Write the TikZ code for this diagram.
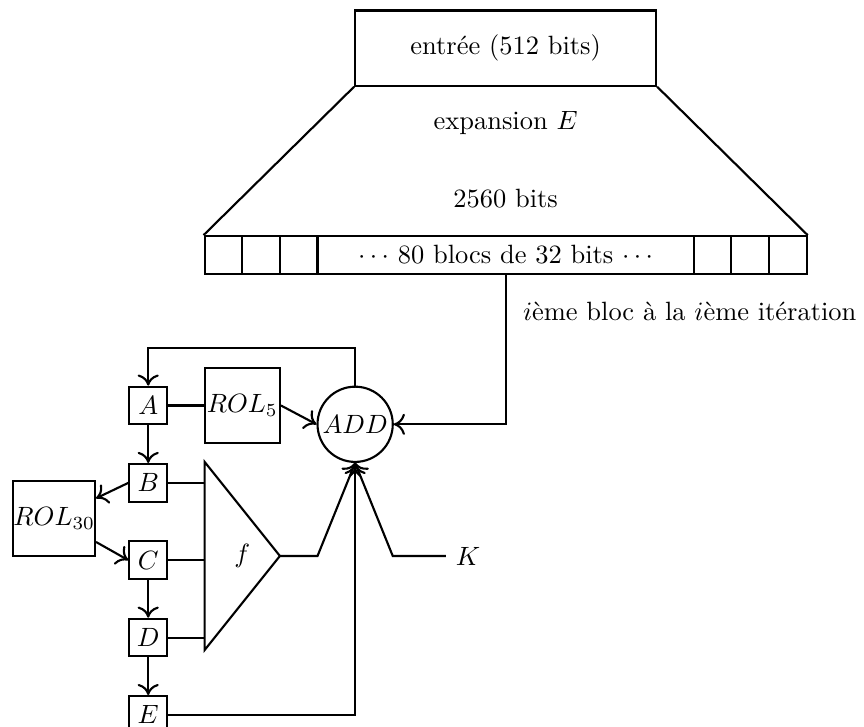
\documentclass[tikz,border=0pt]{standalone}
\usepackage{tikz}
\usetikzlibrary{arrows.meta,positioning}

\begin{document}
\begin{tikzpicture}[node distance=5mm,thick,>={Computer Modern Rightarrow[length=4.2pt,width=8pt]},reg/.style={draw,minimum size=5mm,inner sep=0pt},rol/.style={draw,minimum size=1cm,inner sep=0pt},cell/.style={draw,minimum width=5mm,minimum height=5mm,inner sep=0pt}]
\useasboundingbox (-6.72,-6.514) rectangle (4.763,3.139);
\node[draw,minimum width=4cm,minimum height=1cm] (in) at (0,2.5) {entrée (512 bits)};
\node (exp) at (0,1.5) {expansion $E$};
\node (nb) at (0,0.5) {2560 bits};
\node[draw,minimum width=5cm,minimum height=5mm,inner sep=0pt] (blocs) at (0,-0.25) {$\cdots$ 80 blocs de 32 bits $\cdots$};
\foreach \n/\x in {l1/-3.75,l2/-3.25,l3/-2.75,r1/2.75,r2/3.25,r3/3.75}{\node[cell] (\n) at (\x,-0.25) {};}
\draw (in.south west)--(l1.north west);
\draw (in.south east)--(r3.north east);
\node[anchor=west] (it) at (0.1,-1) {$i$ème bloc à la $i$ème itération};
% registres et rotations
\node[circle,draw,minimum size=1cm,inner sep=0pt] (add) at (-2,-2.5) {$ADD$};
\node[reg] (a) at (-4.75,-2.25) {$A$};
\node[reg,below=of a] (b) {$B$};
\node[reg,below=of b] (c) {$C$};
\node[reg,below=of c] (d) {$D$};
\node[reg,below=of d] (e) {$E$};
\node[rol] (rol5) at (-3.5,-2.25) {$ROL_5$};
\node[rol] (rol30) at (-6,-3.75) {$ROL_{30}$};
% fonction f
\draw (-4,-3) coordinate (ft) -- (-3,-4.25) coordinate (fo) -- (-4,-5.5) coordinate (fb) -- cycle;
\node (f) at (-3.5,-4.25) {$f$};
\node (k) at (-0.5,-4.25) {$K$};
\coordinate (kc) at (-1.5,-4.25);
% liaisons
\draw[->] (blocs.south) |- (add.east);
\draw (a) -- (rol5);
\draw[->] (rol5.east) -- (add.west);
\draw[->] (add.north) -- ++(0,0.5) -| (a.north);
\foreach \x/\y in {a/b,c/d,d/e}{\draw[->] (\x)--(\y);}
\draw[->] (b.west) -- (rol30);
\draw[->] (rol30) -- (c.west);
\foreach \x in {b,c,d}{\draw (\x.east) -- (\x.east -| ft);}
\draw[->] (fo) -- ++(0.5,0) -- (add.south);
\draw[->] (k.west) -- (kc) -- (add.south);
\draw[->] (e.east) -| (add.south);
\end{tikzpicture}
\end{document}
